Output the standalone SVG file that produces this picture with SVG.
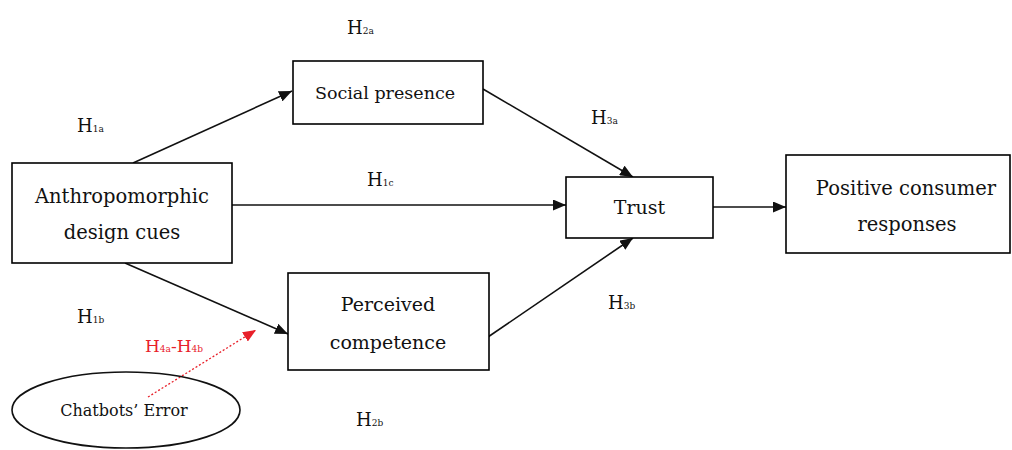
<svg xmlns="http://www.w3.org/2000/svg" width="1012" height="450" viewBox="0 0 1012 450">
<style>
.box{fill:#fff;stroke:#000;stroke-width:1.6}
.lbl{font-family:"DejaVu Serif","Liberation Serif",serif;fill:#111;text-anchor:middle}
.h{font-family:"DejaVu Serif","Liberation Serif",serif;fill:#111;font-size:18px}
.sub{font-size:9px}
.con{stroke:#111;stroke-width:1.6;fill:none}
.red{stroke:#e8202a;stroke-width:1.3;stroke-dasharray:2,2;fill:none}
</style>
<defs>
<marker id="ah" markerUnits="userSpaceOnUse" markerWidth="13" markerHeight="11" refX="13" refY="5.5" orient="auto"><path d="M0,0 L13,5.5 L0,11 z" fill="#111"/></marker>
<marker id="ahr" markerUnits="userSpaceOnUse" markerWidth="13" markerHeight="11" refX="13" refY="5.5" orient="auto"><path d="M0,0 L13,5.5 L0,11 z" fill="#e8202a"/></marker>
</defs>
<rect width="1012" height="450" fill="#fff"/>
<g id="connectors">
<line class="con" x1="133" y1="163" x2="292" y2="91" marker-end="url(#ah)"/>
<line class="con" x1="232" y1="205" x2="566" y2="205" marker-end="url(#ah)"/>
<line class="con" x1="125" y1="263" x2="288" y2="334" marker-end="url(#ah)"/>
<line class="con" x1="483" y1="89" x2="633" y2="177" marker-end="url(#ah)"/>
<line class="con" x1="488" y1="337" x2="633" y2="238" marker-end="url(#ah)"/>
<line class="con" x1="713" y1="207" x2="786" y2="207" marker-end="url(#ah)"/>
<line class="red" x1="148" y1="397" x2="256" y2="330" marker-end="url(#ahr)"/>
</g>
<g id="node-anthropomorphic">
<rect class="box" x="12" y="163" width="220" height="100"/>
<text class="lbl" x="122" y="203" font-size="19.5">Anthropomorphic</text>
<text class="lbl" x="122" y="239" font-size="19.5">design cues</text>
</g>
<g id="node-social">
<rect class="box" x="293" y="61" width="190" height="63"/>
<text class="lbl" x="385" y="99" font-size="17.5">Social presence</text>
</g>
<g id="node-competence">
<rect class="box" x="288" y="273" width="201" height="97"/>
<text class="lbl" x="388" y="311" font-size="19">Perceived</text>
<text class="lbl" x="388" y="349" font-size="19">competence</text>
</g>
<g id="node-trust">
<rect class="box" x="566" y="177" width="147" height="61"/>
<text class="lbl" x="639.5" y="214" font-size="19">Trust</text>
</g>
<g id="node-positive">
<rect class="box" x="786" y="155" width="224" height="98"/>
<text class="lbl" x="906" y="195" font-size="19.5">Positive consumer</text>
<text class="lbl" x="907" y="231" font-size="19.5">responses</text>
</g>
<g id="node-error">
<ellipse cx="126" cy="410" rx="114" ry="38" fill="none" stroke="#111" stroke-width="1.6"/>
<text class="lbl" x="124" y="416" font-size="16">Chatbots’ Error</text>
</g>
<g id="labels">
<text class="h" x="347" y="34">H<tspan class="sub">2a</tspan></text>
<text class="h" x="77" y="132">H<tspan class="sub">1a</tspan></text>
<text class="h" x="367" y="186">H<tspan class="sub">1c</tspan></text>
<text class="h" x="591" y="124">H<tspan class="sub">3a</tspan></text>
<text class="h" x="77" y="323">H<tspan class="sub">1b</tspan></text>
<text class="h" x="608" y="309">H<tspan class="sub">3b</tspan></text>
<text class="h" x="356" y="426">H<tspan class="sub">2b</tspan></text>
<text class="h" x="145" y="352" style="fill:#e8202a;font-size:17px">H<tspan class="sub">4a</tspan>-H<tspan class="sub">4b</tspan></text>
</g>
</svg>
